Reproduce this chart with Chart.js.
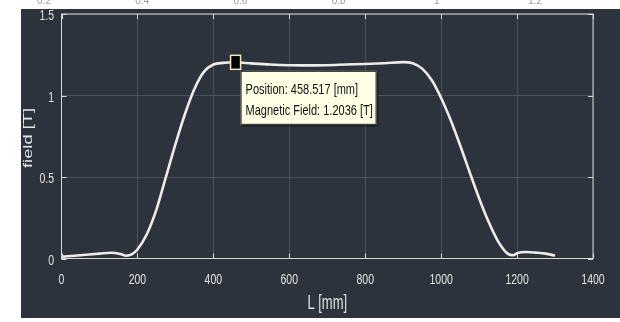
<!DOCTYPE html>
<html>
<head>
<meta charset="utf-8">
<script src="https://cdn.jsdelivr.net/npm/chart.js@4.4.1/dist/chart.umd.min.js"></script>
<style>
  html, body { margin: 0; padding: 0; background: #fff; }
  #wrap { width: 620px; height: 322px; }
</style>
</head>
<body>
<div id="wrap"><canvas id="fieldChart" width="620" height="322"></canvas></div>
<script>
// field profile along the magnet (mm, T)
const positions = [0, 50, 100, 130, 155, 170, 185, 200, 225, 250, 275, 300, 325, 350, 375, 400, 425,
  458.517, 500, 550, 600, 650, 700, 750, 800, 850, 900, 925, 950, 975, 1000, 1025, 1050, 1075,
  1100, 1125, 1150, 1175, 1190, 1200, 1225, 1250, 1275, 1300];
const field = [0.011, 0.02, 0.03, 0.035, 0.028, 0.017, 0.025, 0.055, 0.15, 0.30, 0.50, 0.70, 0.885, 1.04, 1.145, 1.19, 1.2,
  1.2036, 1.197, 1.19, 1.186, 1.185, 1.186, 1.19, 1.193, 1.198, 1.205, 1.198, 1.165, 1.095, 0.985, 0.85, 0.695, 0.53,
  0.37, 0.225, 0.105, 0.03, 0.02, 0.033, 0.04, 0.036, 0.03, 0.018];
const xTicks = [0, 200, 400, 600, 800, 1000, 1200, 1400];
const yTicks = [0, 0.5, 1, 1.5];
const stripLabels = ['0.2', '0.4', '0.6', '0.8', '1', '1.2'];
const cursorPos = 458.517;
const cursorField = 1.2036;

const FONT = '"Liberation Sans", Arial, sans-serif';
const BG = '#2d333c';
const TXT = '#e2e2e2';

// text of the exported figure is stretched vertically, draw it the same way
function tallText(ctx, text, x, y, size, sy, align, color, rot) {
  ctx.save();
  ctx.translate(x, y);
  ctx.scale(1, sy);
  if (rot) ctx.rotate(rot);
  ctx.font = size + 'px ' + FONT;
  ctx.fillStyle = color;
  ctx.textAlign = align;
  ctx.textBaseline = 'middle';
  ctx.fillText(text, 0, 0);
  ctx.restore();
}

const figurePlugin = {
  id: 'figure',
  beforeDraw(chart) {
    const ctx = chart.ctx;
    ctx.save();
    ctx.fillStyle = '#ffffff';
    ctx.fillRect(0, 0, chart.width, chart.height);
    ctx.fillStyle = BG;
    ctx.fillRect(21, 9, chart.width - 21, 309);
    // leftover tick labels of the figure above
    ctx.fillStyle = '#9a9a9a';
    ctx.font = '10px ' + FONT;
    ctx.textAlign = 'center';
    ctx.textBaseline = 'alphabetic';
    stripLabels.forEach((t, i) => ctx.fillText(t, 44 + i * 98.2, 4));
    ctx.restore();
  },
  afterDatasetsDraw(chart) {
    const {ctx, chartArea: a, scales: {x, y}} = chart;
    ctx.save();
    // axes box with inward ticks
    ctx.strokeStyle = '#d8d8d8';
    ctx.lineWidth = 1;
    ctx.strokeRect(a.left, a.top, a.right - a.left, a.bottom - a.top);
    ctx.beginPath();
    xTicks.forEach(v => {
      const px = Math.round(x.getPixelForValue(v)) + 0.5;
      ctx.moveTo(px, a.bottom); ctx.lineTo(px, a.bottom - 5);
      ctx.moveTo(px, a.top); ctx.lineTo(px, a.top + 5);
    });
    yTicks.forEach(v => {
      const py = Math.round(y.getPixelForValue(v)) + 0.5;
      ctx.moveTo(a.left, py); ctx.lineTo(a.left + 5, py);
      ctx.moveTo(a.right, py); ctx.lineTo(a.right - 5, py);
    });
    ctx.stroke();
    ctx.restore();

    // tick labels and axis titles
    xTicks.forEach(v => tallText(ctx, String(v), x.getPixelForValue(v), 279.5, 10.5, 1.4, 'center', TXT));
    yTicks.forEach(v => tallText(ctx, String(v), 54, y.getPixelForValue(v) + 2, 10.5, 1.4, 'right', TXT));
    tallText(ctx, 'L [mm]', (a.left + a.right) / 2, 304, 13, 1.5, 'center', TXT);
    tallText(ctx, 'field [T]', 29, 138, 12.2, 1.5, 'center', TXT, -Math.PI / 2);

    // data cursor
    ctx.save();
    const mx = x.getPixelForValue(cursorPos);
    const my = y.getPixelForValue(cursorField);
    ctx.fillStyle = '#000';
    ctx.fillRect(mx - 5, my - 7, 10, 14);
    ctx.strokeStyle = '#efeac4';
    ctx.lineWidth = 1.5;
    ctx.strokeRect(mx - 5, my - 7, 10, 14);

    const bx = mx + 5, by = my + 8.5, bw = 136, bh = 54;
    ctx.fillStyle = 'rgba(0,0,0,0.35)';
    ctx.fillRect(bx + 2, by + 2, bw, bh);
    ctx.fillStyle = '#ffffe6';
    ctx.fillRect(bx, by, bw, bh);
    ctx.strokeStyle = '#1e1e1e';
    ctx.lineWidth = 1;
    ctx.strokeRect(bx + 0.5, by + 0.5, bw - 1, bh - 1);
    ctx.restore();
    tallText(ctx, 'Position: ' + cursorPos + ' [mm]', bx + 5, by + 19, 11, 1.3, 'left', '#111');
    tallText(ctx, 'Magnetic Field: ' + cursorField + ' [T]', bx + 5, by + 40.5, 11, 1.3, 'left', '#111');
  }
};

new Chart(document.getElementById('fieldChart'), {
  type: 'line',
  data: {
    datasets: [{
      data: positions.map((p, i) => ({x: p, y: field[i]})),
      borderColor: '#ececec',
      borderWidth: 2.6,
      pointRadius: 0,
      cubicInterpolationMode: 'monotone',
      fill: false
    }]
  },
  options: {
    responsive: false,
    animation: false,
    devicePixelRatio: 1,
    layout: { padding: { left: 21, right: 27, top: 14, bottom: 4 } },
    plugins: { legend: { display: false }, tooltip: { enabled: false } },
    scales: {
      x: {
        type: 'linear',
        min: 0, max: 1400,
        afterBuildTicks: s => { s.ticks = xTicks.map(v => ({value: v})); },
        afterFit: s => { s.height = 59.5; },
        grid: { color: '#4a515b', drawTicks: false },
        border: { display: false },
        ticks: { display: false }
      },
      y: {
        min: 0, max: 1.5,
        afterBuildTicks: s => { s.ticks = yTicks.map(v => ({value: v})); },
        afterFit: s => { s.width = 40.5; },
        grid: { color: '#4a515b', drawTicks: false },
        border: { display: false },
        ticks: { display: false }
      }
    }
  },
  plugins: [figurePlugin]
});
</script>
</body>
</html>
